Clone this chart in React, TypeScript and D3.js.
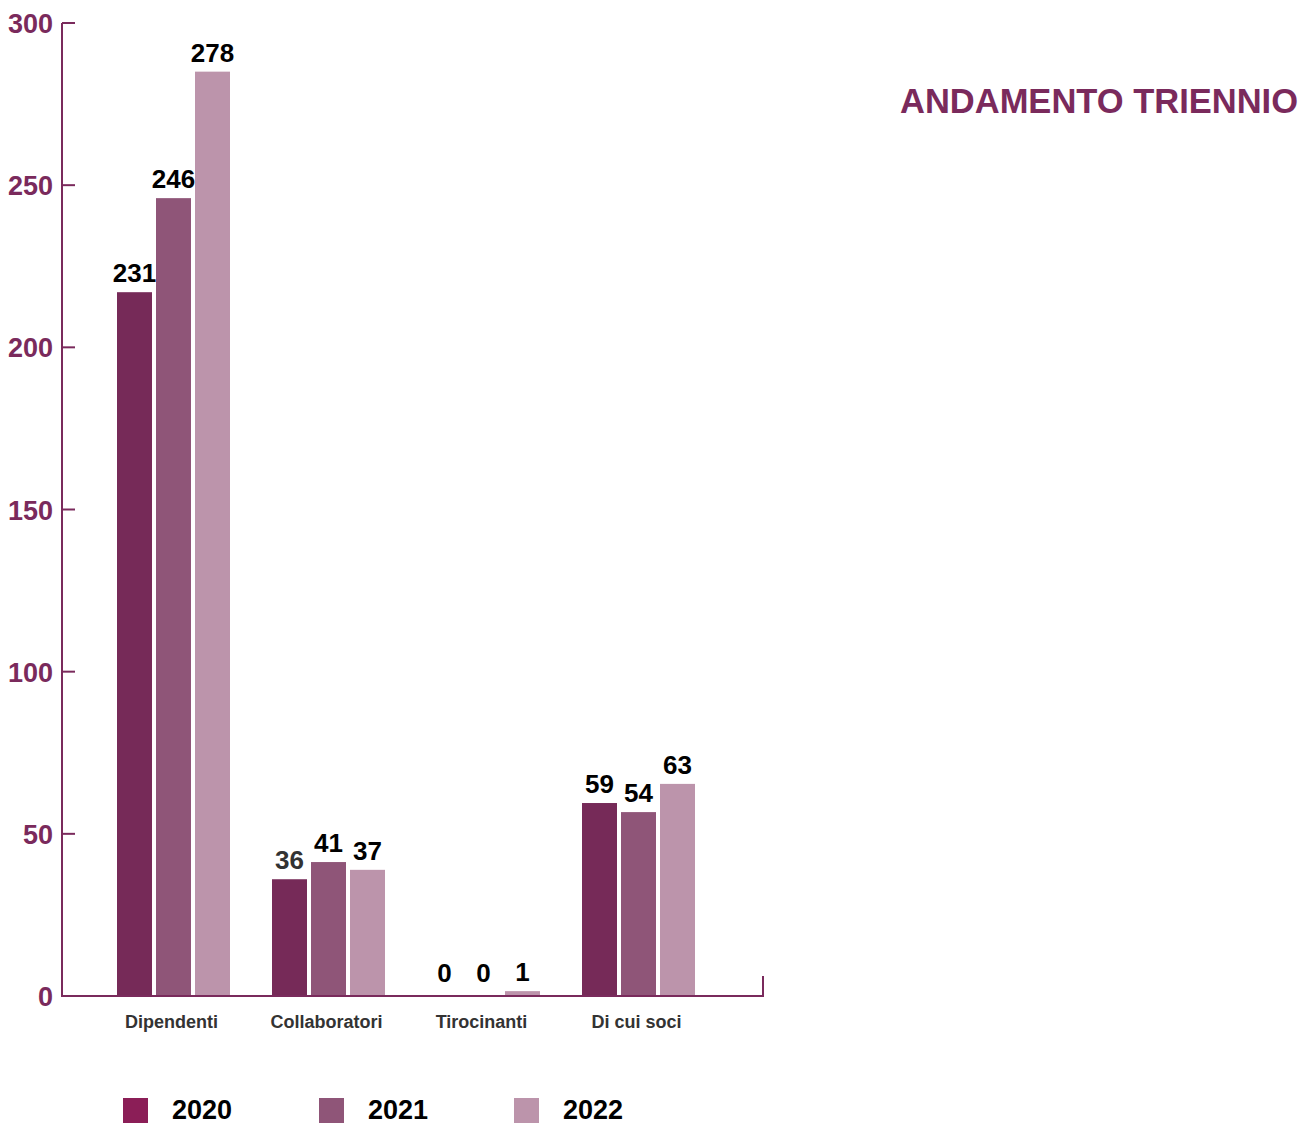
import React from "react";
import * as d3 from "d3";

const categories = ["Dipendenti", "Collaboratori", "Tirocinanti", "Di cui soci"];
const years = ["2020", "2021", "2022"];
// bar heights as drawn in the picture
const values2020 = [217, 36, 0, 59.5];
const values2021 = [246, 41.3, 0, 56.7];
const values2022 = [285, 38.9, 1.5, 65.4];
// data labels as printed
const labels2020 = ["231", "36", "0", "59"];
const labels2021 = ["246", "41", "0", "54"];
const labels2022 = ["278", "37", "1", "63"];
const yTicks = [0, 50, 100, 150, 200, 250, 300];
const title = "ANDAMENTO TRIENNIO";

const barColors = ["#762a58", "#8f5578", "#bc94ab"];
const legendColors = ["#8b1e57", "#8f5578", "#bc94ab"];
const accent = "#7a2a5c";
const font = "'Liberation Sans', Arial, sans-serif";

export default function App() {
  const series = [values2020, values2021, values2022];
  const labels = [labels2020, labels2021, labels2022];
  const y = d3.scaleLinear().domain([0, 300]).range([996, 23]);
  const x0 = d3.scaleBand<string>().domain(categories).range([96, 716]).padding(0);
  const x1 = d3
    .scaleBand<string>()
    .domain(years)
    .range([21, 134])
    .paddingInner(4 / 39)
    .paddingOuter(0);
  const legendX = [123, 319, 514];

  return (
    <svg width={1314} height={1124} style={{ display: "block", position: "absolute", left: 0, top: 0 }}>
      <rect width={1314} height={1124} fill="#fff" />
      {/* bars */}
      {categories.map((c, ci) =>
        years.map((yr, si) => {
          const v = series[si][ci];
          const bx = (x0(c) as number) + (x1(yr) as number);
          const bw = x1.bandwidth();
          return (
            <g key={c + yr}>
              {v > 0 && (
                <rect x={bx} y={y(v)} width={bw} height={y(0) - y(v)} fill={barColors[si]} />
              )}
              <text
                x={bx + bw / 2}
                y={Math.min(y(v) - 10, y(0) - 14)}
                textAnchor="middle"
                fontFamily={font}
                fontWeight="bold"
                fontSize={26}
                fill={ci === 1 && si === 0 ? "#333" : "#000"}
              >
                {labels[si][ci]}
              </text>
            </g>
          );
        })
      )}
      {/* y axis */}
      <line x1={62} x2={62} y1={23} y2={997} stroke={accent} strokeWidth={2} />
      {yTicks.map((t) => (
        <g key={t}>
          <line x1={62} x2={75} y1={y(t)} y2={y(t)} stroke={accent} strokeWidth={2} />
          <text
            x={53}
            y={y(t) + 10}
            textAnchor="end"
            fontFamily={font}
            fontWeight="bold"
            fontSize={27}
            fill={accent}
          >
            {t}
          </text>
        </g>
      ))}
      {/* x axis */}
      <line x1={62} x2={763} y1={y(0)} y2={y(0)} stroke={accent} strokeWidth={2} />
      <line x1={763} x2={763} y1={976} y2={997} stroke={accent} strokeWidth={2} />
      {categories.map((c) => (
        <text
          key={c}
          x={(x0(c) as number) + x0.bandwidth() / 2 - 2}
          y={1028}
          textAnchor="middle"
          fontFamily={font}
          fontWeight="bold"
          fontSize={18}
          fill="#333"
        >
          {c}
        </text>
      ))}
      {/* title */}
      <text x={1298} y={113} textAnchor="end" fontFamily={font} fontWeight="bold" fontSize={34.5} fill={accent}>
        {title}
      </text>
      {/* legend */}
      {years.map((yr, i) => (
        <g key={yr}>
          <rect x={legendX[i]} y={1098} width={25} height={25} fill={legendColors[i]} />
          <text x={legendX[i] + 49} y={1119} fontFamily={font} fontWeight="bold" fontSize={27} fill="#000">
            {yr}
          </text>
        </g>
      ))}
    </svg>
  );
}
